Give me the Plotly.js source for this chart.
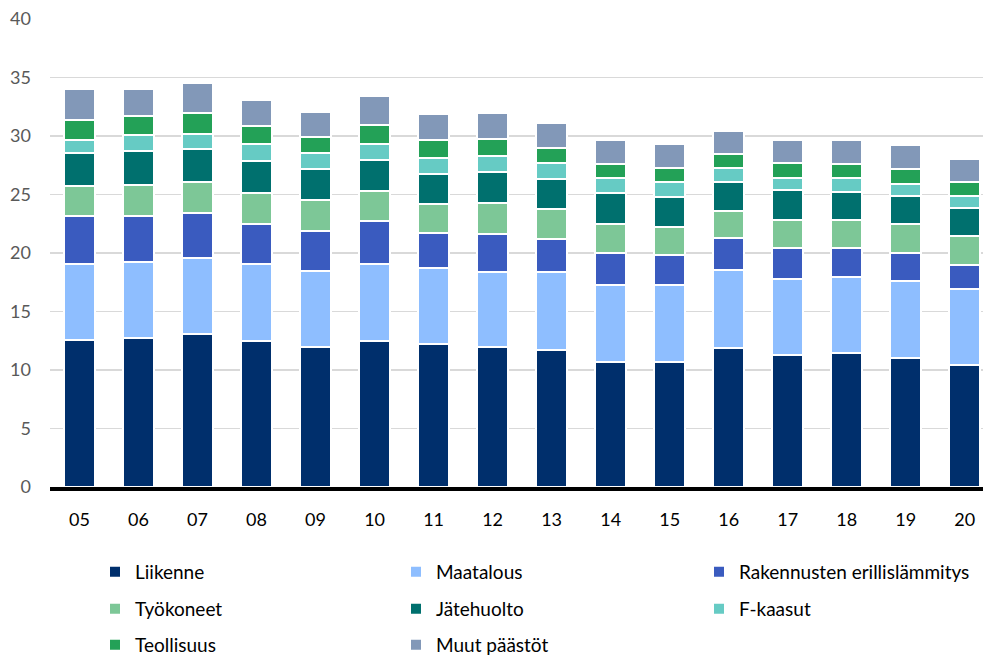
<!DOCTYPE html>
<html>
<head>
<meta charset="utf-8">
<script src="https://cdn.plot.ly/plotly-3.0.1.min.js"></script>
<style>html,body{margin:0;padding:0;background:#fff;}#chart{width:983px;height:662px;}</style>
</head>
<body>
<div id="chart"></div>
<script>
const years = ["05","06","07","08","09","10","11","12","13","14","15","16","17","18","19","20"];
const liikenne    = [12.6,12.75,13.1,12.5,11.95,12.45,12.25,12.0,11.75,10.7,10.65,11.9,11.25,11.45,11.05,10.4];
const maatalous   = [6.5,6.5,6.5,6.6,6.55,6.6,6.5,6.4,6.6,6.55,6.6,6.65,6.55,6.5,6.55,6.5];
const rakennusten = [4.05,3.95,3.8,3.35,3.4,3.7,3.0,3.2,2.85,2.75,2.55,2.7,2.6,2.45,2.4,2.1];
const tyokoneet   = [2.55,2.6,2.65,2.67,2.6,2.55,2.45,2.65,2.55,2.5,2.4,2.35,2.45,2.4,2.45,2.45];
const jatehuolto  = [2.85,2.9,2.85,2.76,2.65,2.65,2.55,2.65,2.6,2.65,2.6,2.5,2.5,2.45,2.4,2.4];
const fkaasut     = [1.15,1.35,1.3,1.42,1.4,1.4,1.4,1.35,1.35,1.3,1.25,1.2,1.1,1.15,1.05,1.0];
const teollisuus  = [1.7,1.7,1.8,1.54,1.35,1.55,1.55,1.5,1.25,1.2,1.25,1.2,1.25,1.25,1.25,1.25];
const muut        = [2.6,2.3,2.55,2.27,2.15,2.5,2.2,2.2,2.15,2.0,2.05,1.95,2.0,2.0,2.05,1.95];

const seriesNames  = ["Liikenne","Maatalous","Rakennusten erillislämmitys","Työkoneet","Jätehuolto","F-kaasut","Teollisuus","Muut päästöt"];
const seriesValues = [liikenne,maatalous,rakennusten,tyokoneet,jatehuolto,fkaasut,teollisuus,muut];
const seriesColors = ["#002f6c","#8ebeff","#3a5bbf","#7dc797","#00706e","#66cbc4","#23a157","#8298b8"];

const FONT = "Lato, 'Liberation Sans', sans-serif";
const legendCols = [95, 396, 699];
const legendRows = [553, 590, 626];

const legendIds = seriesNames.map((n,i)=> i===0 ? "legend" : "legend"+(i+1));

const traces = seriesNames.map((n,i)=>({
  type:"bar",
  name:n,
  x:years,
  y:seriesValues[i],
  legend:legendIds[i],
  marker:{color:seriesColors[i], line:{color:"#ffffff", width:2}},
  hoverinfo:"x+y+name"
}));

function leg(i){
  const col = i % 3, row = Math.floor(i/3);
  return {
    orientation:"h",
    xref:"container", yref:"container",
    x:legendCols[col]/983, y:1-legendRows[row]/662, xanchor:"left", yanchor:"top",
    font:{family:FONT, size:19, color:"#000"},
    bgcolor:"rgba(0,0,0,0)"
  };
}

const layout = {
  width:983, height:662,
  margin:{l:50, r:0, t:19, b:175, pad:0},
  paper_bgcolor:"#ffffff", plot_bgcolor:"#ffffff",
  barmode:"stack",
  bargap:0.475,
  font:{family:FONT, size:18, color:"#000"},
  xaxis:{
    type:"category",
    range:[-0.5,15.31],
    showline:true, linecolor:"#000", linewidth:4,
    showgrid:false, ticks:"", ticklabelstandoff:13,
    tickfont:{family:FONT, size:18, color:"#000"},
    fixedrange:true
  },
  yaxis:{
    range:[0,40], dtick:5, tick0:0,
    showgrid:true, gridcolor:"#d9d9d9", gridwidth:1.5,
    zeroline:false, showline:false, ticks:"",
    ticklabelstandoff:18,
    tickfont:{family:FONT, size:18, color:"#595959"},
    fixedrange:true
  },
  showlegend:true
};
legendIds.forEach((id,i)=>{ layout[id] = leg(i); });

Plotly.newPlot("chart", traces, layout, {displayModeBar:false, staticPlot:true});
</script>
</body>
</html>
